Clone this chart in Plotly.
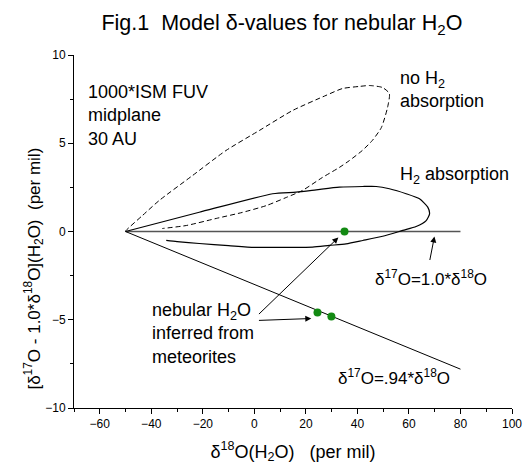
import plotly.graph_objects as go

# ---- data ----
no_h2_x = [-50, -49.8, -43.4, -36.9, -24, -11, 1.9, 14.9, 27.8, 34.2, 40.8, 44.7, 49.7, 52.4, 51.7, 49.3, 45.8, 41.9, 36.9, 33.0, 26.4, 18.6, 12.4, 4.7, -4.7, -14.8, -26.4, -35.7]
no_h2_y = [0, 0.06, 0.91, 1.76, 3.17, 4.59, 5.72, 6.86, 7.71, 8.10, 8.22, 8.27, 8.16, 7.82, 7.03, 5.89, 5.16, 4.59, 4.02, 3.63, 3.06, 2.32, 1.93, 1.47, 1.08, 0.74, 0.34, 0.17]

h2_x = [-50, -21.4, 7.1, 16.2, 24, 33, 42.1, 47.3, 52.4, 58.9, 64.1, 67.3, 68, 66.7, 62.8, 57.6, 49.8, 42.1, 35.6, 29.1, 22.6, 10, 0, -10, -21.4, -30, -34.2]
h2_y = [0, 1.09, 2.14, 2.23, 2.36, 2.51, 2.55, 2.55, 2.42, 2.14, 1.85, 1.38, 1.0, 0.62, 0.28, 0.06, -0.27, -0.51, -0.70, -0.79, -0.89, -0.9, -0.9, -0.8, -0.68, -0.57, -0.5]

line10_x = [-50, 80]
line10_y = [0, 0]
line094_x = [-50, 80]
line094_y = [0, -7.8]

neb_x = [35, 24.5, 29.9]
neb_y = [0, -4.59, -4.82]

x_ticks = [-60, -40, -20, 0, 20, 40, 60, 80, 100]
y_ticks = [-10, -5, 0, 5, 10]

FONT = "Arial, Liberation Sans, sans-serif"

fig = go.Figure()
fig.add_trace(go.Scatter(x=line10_x, y=line10_y, mode="lines",
                         line=dict(color="#555555", width=1.5), hoverinfo="skip"))
fig.add_trace(go.Scatter(x=line094_x, y=line094_y, mode="lines",
                         line=dict(color="black", width=1), hoverinfo="skip"))
fig.add_trace(go.Scatter(x=no_h2_x, y=no_h2_y, mode="lines", name="no H2 absorption",
                         line=dict(color="black", width=1, dash="5px,3px", shape="spline", smoothing=0.6)))
fig.add_trace(go.Scatter(x=h2_x, y=h2_y, mode="lines", name="H2 absorption",
                         line=dict(color="black", width=1.2, shape="spline", smoothing=0.6)))
fig.add_trace(go.Scatter(x=neb_x, y=neb_y, mode="markers", name="nebular H2O",
                         marker=dict(color="#138a13", size=8)))

ann = []
def txt(x, y, text, size=18, xanchor="left"):
    ann.append(dict(x=x, y=y, xref="x", yref="y", text=text, showarrow=False,
                    xanchor=xanchor, yanchor="middle", align="left",
                    font=dict(family=FONT, size=size, color="black")))

txt(-65.2, 6.57, "1000*ISM FUV<br>midplane<br>30 AU")
txt(55.6, 8.02, "no H<sub>2</sub><br>absorption")
txt(55.6, 3.17, "H<sub>2</sub> absorption")
txt(91.0, -2.66, "δ<sup>17</sup>O=1.0*δ<sup>18</sup>O", size=17, xanchor="right")
txt(31.8, -8.27, "δ<sup>17</sup>O=.94*δ<sup>18</sup>O", size=17)
txt(-40.4, -5.78, "nebular H<sub>2</sub>O<br>inferred from<br>meteorites")

def arrow(hx, hy, tx, ty):
    ann.append(dict(x=hx, y=hy, ax=tx, ay=ty, xref="x", yref="y", axref="x", ayref="y",
                    text="", showarrow=True, arrowhead=2, arrowsize=1.2, arrowwidth=1,
                    arrowcolor="black"))

arrow(32.6, -0.34, 1.2, -4.76)
arrow(22.1, -4.93, 1.2, -5.04)
arrow(69.9, -0.28, 68.0, -1.70)

ann.append(dict(x=-0.0913, y=0.395, xref="paper", yref="paper", textangle=-90,
                text="[δ<sup>17</sup>O - 1.0*δ<sup>18</sup>O](H<sub>2</sub>O)  (per mil)",
                showarrow=False, xanchor="center", yanchor="middle",
                font=dict(family=FONT, size=17, color="black")))

fig.update_layout(
    width=524, height=467,
    margin=dict(l=74, r=12, t=55, b=59),
    paper_bgcolor="white", plot_bgcolor="white",
    showlegend=False,
    font=dict(family=FONT, color="black"),
    title=dict(text="Fig.1  Model δ-values for nebular H<sub>2</sub>O",
               x=0.538, xanchor="center", y=0.951, yanchor="middle",
               font=dict(family=FONT, size=21.5, color="black")),
    annotations=ann,
)
fig.update_xaxes(range=[-70, 100], tickmode="array", tickvals=x_ticks, automargin=False,
                 ticks="outside", ticklen=5, tickcolor="black", tickwidth=1,
                 minor=dict(dtick=10, tick0=0, ticks="outside", ticklen=3, tickcolor="black"),
                 showline=True, linecolor="black", linewidth=1, mirror=False,
                 showgrid=False, zeroline=False,
                 tickfont=dict(family=FONT, size=12, color="black"),
                 title=dict(text="δ<sup>18</sup>O(H<sub>2</sub>O)   (per mil)", standoff=14,
                            font=dict(family=FONT, size=18, color="black")))
fig.update_yaxes(range=[-10, 10], tickmode="array", tickvals=y_ticks, automargin=False,
                 ticks="outside", ticklen=5, tickcolor="black", tickwidth=1,
                 minor=dict(dtick=2.5, tick0=0, ticks="outside", ticklen=3, tickcolor="black"),
                 showline=True, linecolor="black", linewidth=1, mirror=False,
                 showgrid=False, zeroline=False,
                 tickfont=dict(family=FONT, size=12, color="black"))

fig.write_html("out.html", config={"displayModeBar": False},
               post_script="document.body.style.margin='0px';document.body.style.overflow='hidden';")
